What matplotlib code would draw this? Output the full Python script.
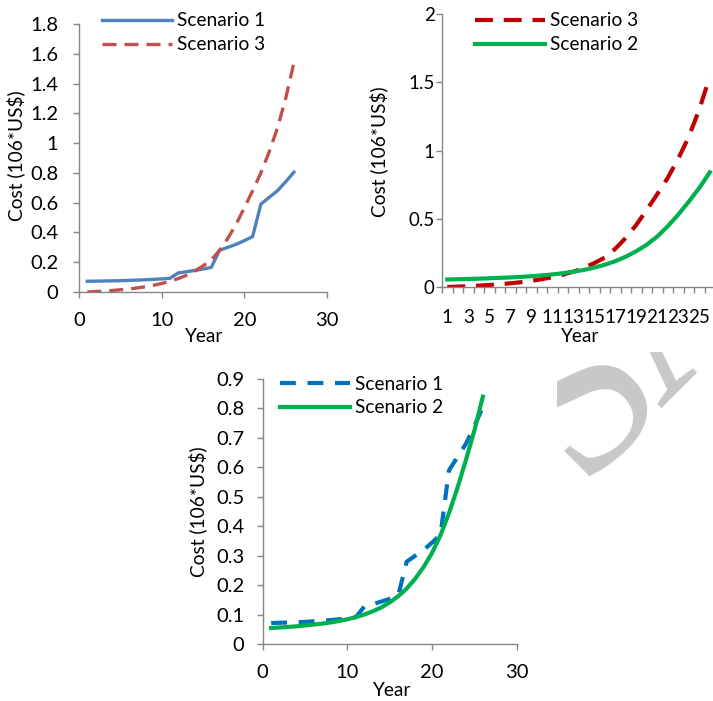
import matplotlib
matplotlib.use("Agg")
import matplotlib.pyplot as plt
from matplotlib.patches import Rectangle
import numpy as np

plt.rcParams['font.family'] = ['Lato', 'DejaVu Sans']

years = list(range(1, 27))
scenario1 = [0.072, 0.073, 0.074, 0.075, 0.076, 0.078, 0.080, 0.082, 0.085, 0.088,
             0.092, 0.128, 0.136, 0.145, 0.154, 0.165, 0.280, 0.300, 0.320, 0.345,
             0.372, 0.590, 0.635, 0.680, 0.740, 0.805]
scenario2 = [0.055, 0.057, 0.059, 0.061, 0.064, 0.067, 0.070, 0.074, 0.079, 0.085,
             0.092, 0.101, 0.112, 0.125, 0.142, 0.163, 0.189, 0.222, 0.262, 0.310,
             0.370, 0.445, 0.530, 0.625, 0.725, 0.840]
scenario3 = [0.000, 0.003, 0.006, 0.010, 0.015, 0.020, 0.027, 0.035, 0.045, 0.057,
             0.072, 0.090, 0.112, 0.140, 0.175, 0.215, 0.280, 0.360, 0.455, 0.565,
             0.680, 0.800, 0.940, 1.100, 1.300, 1.540]

ylabel = "Cost (106*US$)"
xlabel = "Year"

W, H = 713, 701
fig = plt.figure(figsize=(W / 100, H / 100), dpi=100)

GREY = '#868686'
LFS = 13.8   # legend / axis label font size

def px_axes(left, right, top, bottom):
    return fig.add_axes([left / W, (H - bottom) / H, (right - left) / W, (bottom - top) / H])

def style(ax, fs, xpad, ypad):
    for s in ['top', 'right']:
        ax.spines[s].set_visible(False)
    for s in ['left', 'bottom']:
        ax.spines[s].set_color(GREY)
        ax.spines[s].set_linewidth(1.0)
    ax.tick_params(axis='both', direction='out', length=4.3, width=1.0, color=GREY,
                   labelsize=fs, labelcolor='black')
    ax.tick_params(axis='x', pad=xpad)
    ax.tick_params(axis='y', pad=ypad)

def ftext(x, y, s, **kw):
    fig.text(x / W, 1 - y / H, s, ha='center', va='center', fontsize=LFS, **kw)

def legend(ax, x, y):
    ax.legend(loc='upper left', bbox_to_anchor=(x / W, 1 - y / H), bbox_transform=fig.transFigure,
              frameon=False, fontsize=LFS, handlelength=3.65, handletextpad=0.28,
              labelspacing=0.36, borderpad=0, borderaxespad=0)

# Panel 1
ax1 = px_axes(79, 327, 24, 292)
ax1.plot(years, scenario1, color='#4F81BD', lw=2.4, label='Scenario 1')
ax1.plot(years, scenario3, color='#C0504D', lw=2.4, ls=(0, (4.2, 2.4)), label='Scenario 3')
ax1.set_xlim(0, 30)
ax1.set_ylim(0, 1.8)
ax1.set_xticks([0, 10, 20, 30])
ax1.set_yticks(np.arange(0, 1.81, 0.2))
ax1.set_yticklabels(['0', '0.2', '0.4', '0.6', '0.8', '1', '1.2', '1.4', '1.6', '1.8'])
style(ax1, 14.5, 10, 10.5)
legend(ax1, 102, 12.5)
ftext(16, 156, ylabel, rotation=90)
ftext(203, 336, xlabel)

# Panel 2
ax2 = px_axes(442, 715, 14, 287)
ax2.plot(years, scenario3, color='#C00000', lw=3, ls=(0, (4.3, 2.6)), label='Scenario 3')
ax2.plot(years, scenario2, color='#00B050', lw=3, label='Scenario 2')
ax2.set_xlim(0.5, 26.5)
ax2.set_ylim(0, 2)
ax2.set_yticks([0, 0.5, 1, 1.5, 2])
ax2.set_yticklabels(['0', '0.5', '1', '1.5', '2'])
ax2.set_xticks(years[::2])
ax2.set_xticklabels([str(y) for y in years[::2]])
ax2.set_xticks(np.arange(0.5, 27, 1), minor=True)
style(ax2, 13.5, 17, 1)
ax2.tick_params(axis='x', which='major', length=0, pad=15.5)
ax2.tick_params(axis='x', which='minor', direction='out', length=4.3, width=1.0, color=GREY)
legend(ax2, 475, 12.5)
ftext(378.5, 152, ylabel, rotation=90)
ftext(579, 336, xlabel)

# Panel 3
ax3 = px_axes(262.7, 516.7, 379, 644.3)
ax3.plot(years, scenario1, color='#0070C0', lw=3, ls=(0, (3.8, 2.8)), label='Scenario 1')
ax3.plot(years, scenario2, color='#00B050', lw=3, label='Scenario 2')
ax3.set_xlim(0, 30)
ax3.set_ylim(0, 0.9)
ax3.set_xticks([0, 10, 20, 30])
ax3.set_yticks(np.arange(0, 0.91, 0.1))
ax3.set_yticklabels(['0', '0.1', '0.2', '0.3', '0.4', '0.5', '0.6', '0.7', '0.8', '0.9'])
style(ax3, 14.5, 10, 9)
legend(ax3, 280, 375.5)
ftext(197.5, 512, ylabel, rotation=90)
ftext(391, 690, xlabel)

# Watermark fragment (partly hidden behind the chart images)
clip = Rectangle((557 / W, 0), 1, (H - 352) / H, transform=fig.transFigure,
                 facecolor='none', edgecolor='none')
for ch, (gx, gy) in (('S', (578, 481)), ('A', (659.4, 407.6))):
    wm = fig.text(gx / W, 1 - gy / H, ch, fontsize=168, color='#C8C8C8', rotation=45,
                  rotation_mode='anchor', family='Liberation Serif', ha='left', va='baseline',
                  zorder=0)
    wm.set_clip_path(clip)

fig.savefig('out.png', dpi=100)
